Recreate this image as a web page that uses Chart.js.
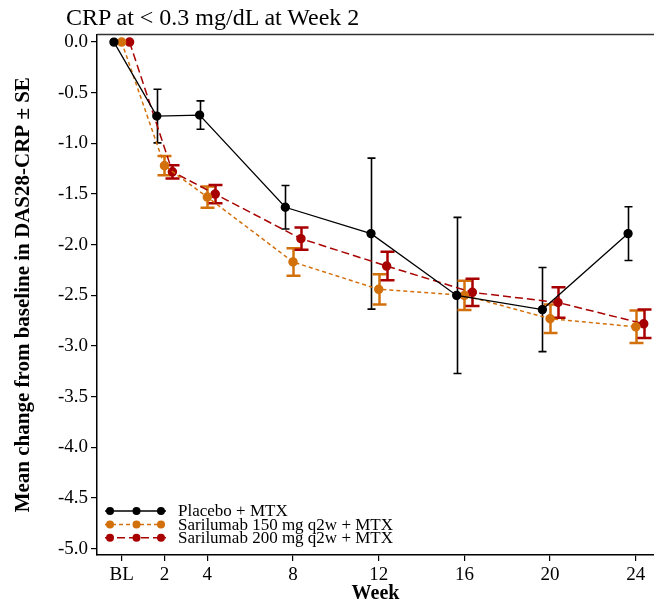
<!DOCTYPE html>
<html>
<head>
<meta charset="utf-8">
<script src="https://cdn.jsdelivr.net/npm/chart.js@4"></script>
<style>
  html, body { margin: 0; padding: 0; background: #fff; }
  #wrap { position: relative; width: 654px; height: 604px; }
  #chart { position: absolute; left: 0; top: 0; }
  #title { position: absolute; left: 66px; top: 4px; font: 24px "Liberation Serif", "Times New Roman", serif; color: #000; white-space: nowrap; }
</style>
</head>
<body>
<div id="wrap">
  <canvas id="chart" width="654" height="604"></canvas>
  <div id="title">CRP at &lt; 0.3 mg/dL at Week 2</div>
</div>
<script>
// values
const weeks      = [0, 2, 4, 8, 12, 16, 20, 24];
const weekLabels = ['BL', '2', '4', '8', '12', '16', '20', '24'];
const yTicks     = [0, -0.5, -1, -1.5, -2, -2.5, -3, -3.5, -4, -4.5, -5];

const seriesNames = ['Placebo + MTX', 'Sarilumab 150 mg q2w + MTX', 'Sarilumab 200 mg q2w + MTX'];
const placeboMean = [0, -0.73, -0.72, -1.63, -1.89, -2.50, -2.64, -1.89];
const placeboSE   = [0, 0.265, 0.14, 0.215, 0.745, 0.77, 0.415, 0.265];
const sari150Mean = [0, -1.22, -1.53, -2.17, -2.44, -2.50, -2.73, -2.81];
const sari150SE   = [0, 0.095, 0.105, 0.135, 0.15, 0.145, 0.14, 0.16];
const sari200Mean = [0, -1.28, -1.50, -1.94, -2.21, -2.47, -2.57, -2.78];
const sari200SE   = [0, 0.065, 0.09, 0.11, 0.14, 0.135, 0.15, 0.14];

const FONT = '"Liberation Serif", "Times New Roman", serif';
const ORANGE = '#d2700c';
const RED = '#a80000';

// small horizontal dodge so the groups do not overlap
function pts(mean, shift) {
    return weeks.map((w, i) => ({ x: w + shift, y: mean[i] }));
}

function makeSet(label, mean, se, shift, color, dash, width, cap, barWidth) {
    return {
        label: label,
        data: pts(mean, shift),
        se: se,
        borderColor: color,
        backgroundColor: color,
        pointBackgroundColor: color,
        pointBorderColor: color,
        borderWidth: width,
        borderDash: dash,
        pointRadius: 4,
        pointHoverRadius: 4,
        tension: 0,
        fill: false,
        cap: cap,
        barWidth: barWidth
    };
}

const errorBars = {
    id: 'errorBars',
    beforeDatasetsDraw(chart) {
        const ctx = chart.ctx;
        const xs = chart.scales.x, ys = chart.scales.y;
        chart.data.datasets.forEach(ds => {
            ctx.save();
            ctx.strokeStyle = ds.borderColor;
            ctx.lineWidth = ds.barWidth;
            ctx.setLineDash([]);
            ds.data.forEach((p, j) => {
                const se = ds.se[j];
                if (!se) return;
                const px = Math.round(xs.getPixelForValue(p.x)) + 0.5;
                const top = ys.getPixelForValue(p.y + se);
                const bot = ys.getPixelForValue(p.y - se);
                ctx.beginPath();
                ctx.moveTo(px, top); ctx.lineTo(px, bot);
                ctx.moveTo(px - ds.cap, top); ctx.lineTo(px + ds.cap, top);
                ctx.moveTo(px - ds.cap, bot); ctx.lineTo(px + ds.cap, bot);
                ctx.stroke();
            });
            ctx.restore();
        });
    }
};

const frameAndLegend = {
    id: 'frameAndLegend',
    afterDraw(chart) {
        const ctx = chart.ctx;
        const a = chart.chartArea;
        ctx.save();
        // top border
        ctx.strokeStyle = '#333';
        ctx.lineWidth = 1.5;
        ctx.beginPath();
        ctx.moveTo(a.left, a.top); ctx.lineTo(a.right, a.top);
        ctx.stroke();

        // legend in the lower left of the plot
        ctx.font = '17px ' + FONT;
        ctx.textBaseline = 'middle';
        chart.data.datasets.forEach((ds, i) => {
            const y = a.bottom - 44 + i * 13.4;
            const x0 = a.left + 8;
            ctx.strokeStyle = ds.borderColor;
            ctx.lineWidth = ds.borderWidth;
            ctx.setLineDash(ds.borderDash);
            ctx.beginPath();
            ctx.moveTo(x0, y); ctx.lineTo(x0 + 61, y);
            ctx.stroke();
            ctx.setLineDash([]);
            ctx.fillStyle = ds.borderColor;
            [5, 31.5, 56].forEach(dx => {
                ctx.beginPath();
                ctx.arc(x0 + dx, y, 4, 0, Math.PI * 2);
                ctx.fill();
            });
            ctx.fillStyle = '#000';
            ctx.fillText(ds.label, a.left + 81, y + 1);
        });
        ctx.restore();
    }
};

new Chart(document.getElementById('chart'), {
    type: 'line',
    data: {
        datasets: [
            makeSet(seriesNames[0], placeboMean, placeboSE, -0.36, '#000', [], 1.3, 4, 1.6),
            makeSet(seriesNames[1], sari150Mean, sari150SE, 0, ORANGE, [4, 3], 1.5, 7, 2.5),
            makeSet(seriesNames[2], sari200Mean, sari200SE, 0.37, RED, [8, 4], 1.5, 7, 2.5)
        ]
    },
    options: {
        responsive: false,
        animation: false,
        devicePixelRatio: 1,
        layout: { autoPadding: false, padding: { top: 34.5, right: 0, bottom: 0, left: 0 } },
        plugins: {
            legend: { display: false },
            title: { display: false },
            tooltip: { enabled: false }
        },
        scales: {
            x: {
                type: 'linear',
                min: -1.15,
                max: 24.85,
                afterBuildTicks: s => { s.ticks = weeks.map(v => ({ value: v })); },
                afterFit: s => { s.height = 49; s.paddingRight = 0; s.paddingLeft = 0; },
                ticks: {
                    color: '#000',
                    font: { family: FONT, size: 19 },
                    padding: 3,
                    maxRotation: 0,
                    autoSkip: false,
                    callback: v => weekLabels[weeks.indexOf(v)]
                },
                grid: { drawOnChartArea: false, drawTicks: true, tickLength: 6, color: '#000', lineWidth: 1.2 },
                border: { display: true, color: '#000', width: 1.5 },
                title: {
                    display: true,
                    text: 'Week',
                    color: '#000',
                    font: { family: FONT, size: 20, weight: 'bold' },
                    padding: { top: 0, bottom: -2 }
                }
            },
            y: {
                min: -5.062,
                max: 0.075,
                afterBuildTicks: s => { s.ticks = yTicks.map(v => ({ value: v })); },
                afterFit: s => { s.width = 97; s.paddingTop = 0; s.paddingBottom = 0; },
                ticks: {
                    color: '#000',
                    font: { family: FONT, size: 19 },
                    padding: 3,
                    callback: v => v.toFixed(1)
                },
                grid: { drawOnChartArea: false, drawTicks: true, tickLength: 6, color: '#000', lineWidth: 1.2 },
                border: { display: true, color: '#000', width: 1.5 },
                title: {
                    display: true,
                    text: 'Mean change from baseline in DAS28-CRP ± SE',
                    color: '#000',
                    font: { family: FONT, size: 21, weight: 'bold' },
                    padding: { top: 11, bottom: 0 }
                }
            }
        }
    },
    plugins: [errorBars, frameAndLegend]
});
</script>
</body>
</html>
